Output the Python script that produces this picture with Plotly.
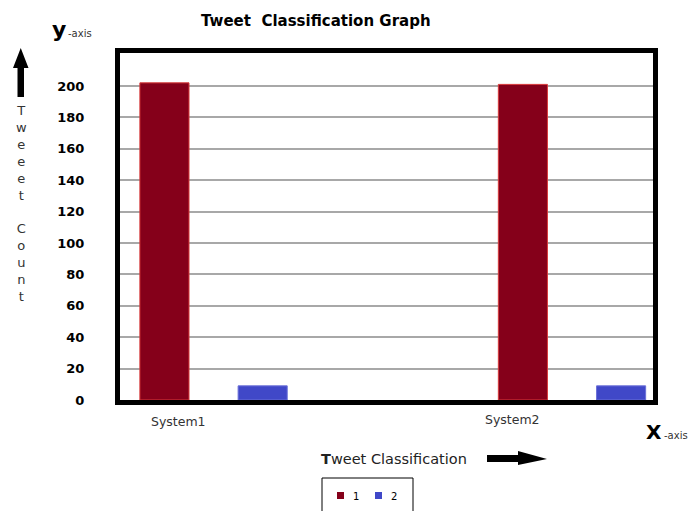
import plotly.graph_objects as go

# ---- data ----
categories = ["System1", "System2"]
series1_values = [202, 201]
series2_values = [9, 9]
series_names = ["1", "2"]
series_colors = ["#85001a", "#4048c8"]
y_tick_values = [0, 20, 40, 60, 80, 100, 120, 140, 160, 180, 200]
y_tick_labels = ["0", "20", "40", "60", "80", "100", "120", "140", "160", "180", "200"]

W, H = 688, 511
L, R, T, B = 120, 35, 53, 111
PW, PH = W - L - R, H - T - B


def px(x):
    return (x - L) / PW


def py(y):
    return (H - B - y) / PH


fig = go.Figure()
fig.add_trace(go.Bar(
    x=categories, y=series1_values, name=series_names[0],
    marker=dict(color=series_colors[0], line=dict(color="#d83a3a", width=1)),
))
fig.add_trace(go.Bar(
    x=categories, y=series2_values, name=series_names[1],
    marker=dict(color=series_colors[1], line=dict(color="#6a70d8", width=1)),
))

shapes = []
# right arrow next to x title
shapes.append(dict(type="path", xref="paper", yref="paper",
                   path="M {a},{b} L {c},{b} L {c},{d} L {e},{f} L {c},{g} L {c},{h} L {a},{h} Z".format(
                       a=px(487), c=px(518), e=px(547),
                       b=py(455), h=py(462), d=py(451), g=py(465), f=py(459)),
                   fillcolor="black", line=dict(width=0)))
# up arrow on the left
shapes.append(dict(type="path", xref="paper", yref="paper",
                   path="M {a},{b} L {c},{b} L {c},{d} L {e},{d} L {f},{g} L {h},{d} L {a},{d} Z".format(
                       a=px(17.5), c=px(24), b=py(97), d=py(68),
                       e=px(28.5), f=px(20.75), g=py(48), h=px(13)),
                   fillcolor="black", line=dict(width=0)))
# legend box (box runs past the bottom edge, as in the reference)
shapes.append(dict(type="rect", xref="paper", yref="paper",
                   x0=px(322), x1=px(413), y0=py(478), y1=py(520),
                   line=dict(color="black", width=1), fillcolor="white"))
legend_x = [337, 375]
for i, c in enumerate(series_colors):
    shapes.append(dict(type="rect", xref="paper", yref="paper",
                       x0=px(legend_x[i]), x1=px(legend_x[i] + 7), y0=py(492), y1=py(499),
                       line=dict(width=0), fillcolor=c))


def note(text, x, y, size, color="#333", family="DejaVu Sans", xanchor="center", xref="paper", xshift=0):
    return dict(text=text, x=x, y=y, xref=xref, yref="paper", xanchor=xanchor, yanchor="middle",
                xshift=xshift, showarrow=False, font=dict(family=family, size=size, color=color))


ann = [
    note("<b>Tweet  Classification Graph</b>", px(316), py(21), 15, "black"),
    note("<b>y</b>", px(59), py(30), 22, "black"),
    note("-axis", px(66), py(34), 10, xanchor="left"),
    note("<b>X</b>", px(654), py(432), 20, "black"),
    note("-axis", px(662), py(435), 10, xanchor="left"),
    note("<b>T</b>weet Classification", px(394), py(459), 14.5, "#222"),
    note("<br>".join(list("Tweeet") + [""] + list("Count")), px(21), py(203), 13),
    note(categories[0], categories[0], py(421), 12.5, xref="x", xshift=-35),
    note(categories[1], categories[1], py(419), 12.5, xref="x", xshift=-59),
]
for i, n in enumerate(series_names):
    ann.append(note(n, px(legend_x[i] + 14), py(496), 10, "black", xanchor="left"))

fig.update_layout(
    width=W, height=H,
    margin=dict(l=L, r=R, t=T, b=B, pad=0, autoexpand=False),
    paper_bgcolor="white", plot_bgcolor="white",
    barmode="group", bargap=0.452, bargroupgap=0.5,
    showlegend=False,
    xaxis=dict(range=[-0.261, 1.226], showticklabels=False, showgrid=False, ticks="",
               showline=True, linecolor="black", linewidth=5, mirror=True, zeroline=False),
    yaxis=dict(range=[0, 221], tickvals=y_tick_values, ticktext=y_tick_labels,
               showgrid=True, gridcolor="#a8a8a8", gridwidth=1.5, ticks="",
               tickfont=dict(family="DejaVu Sans", size=13, color="black", weight="bold"),
               ticklabelstandoff=28,
               showline=True, linecolor="black", linewidth=5, mirror=True, zeroline=False),
    shapes=shapes, annotations=ann,
)

fig.write_html("out.html")
